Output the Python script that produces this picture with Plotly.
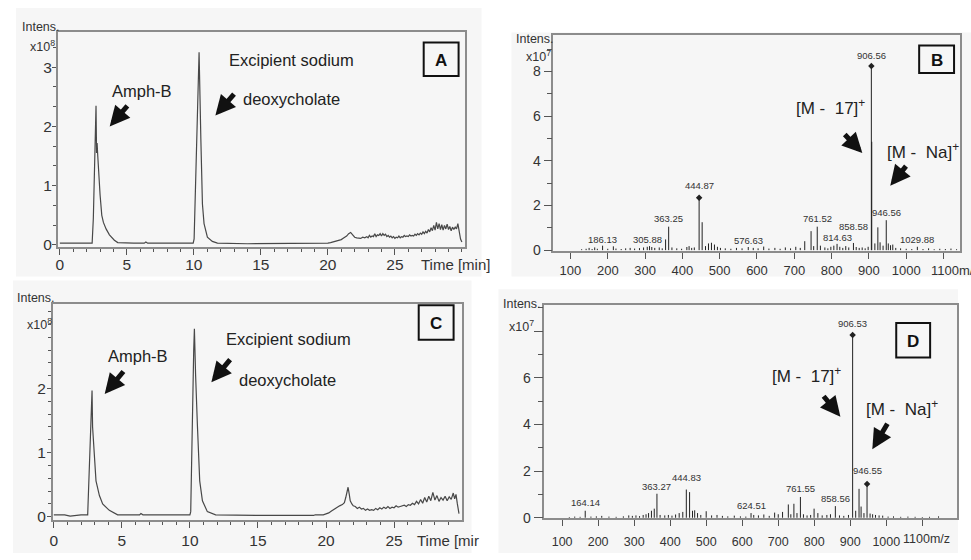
import plotly.graph_objects as go

# ---------------- data ----------------
# Chromatogram A (time [min], intensity x1e8)
time_A = [0, 1, 2, 2.41, 2.5, 2.58, 2.65, 2.70, 2.74, 2.78, 2.83, 2.90, 3.0, 3.13, 3.25, 3.45, 3.7, 4.07, 4.32,
          5.5, 6.3, 6.42, 6.55, 8, 9.95, 10.02, 10.15, 10.27, 10.39, 10.52, 10.64, 10.76, 11.01, 11.38, 11.76,
          14, 18, 19.94, 20.0, 20.2, 20.4, 20.6, 20.8, 21.0, 21.2, 21.4, 21.55, 21.7, 21.85, 22.0, 22.15, 22.3,
          22.45, 22.6, 22.75, 22.9, 23.0, 23.1, 23.2, 23.3, 23.4, 23.5, 23.6, 23.7, 23.8, 23.9, 24.0, 24.1, 24.2,
          24.3, 24.4, 24.5, 24.6, 24.7, 24.8, 24.9, 25.0, 25.1, 25.2, 25.3, 25.4, 25.5, 25.6, 25.7, 25.8, 25.9,
          26.0, 26.1, 26.2, 26.3, 26.4, 26.5, 26.6, 26.7, 26.8, 26.9, 27.0, 27.1, 27.2, 27.3, 27.4, 27.5, 27.6,
          27.7, 27.8, 27.9, 28.0, 28.1, 28.2, 28.3, 28.4, 28.5, 28.6, 28.7, 28.8, 28.9, 29.0, 29.1, 29.2, 29.3,
          29.4, 29.5, 29.6, 29.7, 29.8, 29.9, 30.0]
int_A = [0.03, 0.03, 0.03, 0.03, 0.45, 1.25, 1.9, 2.35, 1.55, 1.72, 1.5, 1.2, 0.85, 0.5, 0.38, 0.27, 0.17, 0.08, 0.04,
         0.03, 0.03, 0.05, 0.03, 0.03, 0.03, 0.1, 1.25, 2.63, 3.25, 1.8, 0.69, 0.36, 0.13, 0.06, 0.03,
         0.02, 0.02, 0.02, 0.03, 0.04, 0.05, 0.06, 0.08, 0.09, 0.12, 0.15, 0.19, 0.21, 0.17, 0.13, 0.12, 0.12,
         0.11, 0.13, 0.12, 0.14, 0.12, 0.16, 0.13, 0.15, 0.14, 0.19, 0.14, 0.17, 0.16, 0.19, 0.15, 0.19, 0.16,
         0.18, 0.14, 0.16, 0.13, 0.15, 0.12, 0.14, 0.11, 0.13, 0.12, 0.15, 0.12, 0.14, 0.13, 0.16, 0.14, 0.15,
         0.14, 0.17, 0.15, 0.16, 0.15, 0.18, 0.16, 0.19, 0.17, 0.2, 0.18, 0.22, 0.19, 0.23, 0.2, 0.26, 0.22,
         0.29, 0.24, 0.33, 0.25, 0.38, 0.27, 0.36, 0.26, 0.34, 0.25, 0.33, 0.27, 0.35, 0.26, 0.31, 0.24, 0.3,
         0.26, 0.3, 0.27, 0.36, 0.18, 0.1, 0.05]

# Chromatogram C (time [min], intensity x1e8)
time_C = [0, 0.8, 1.2, 1.6, 2.0, 2.49, 2.61, 2.71, 2.78, 2.81, 2.85, 2.9, 3.0, 3.10, 3.35, 3.59, 4.08, 4.69,
          6.0, 6.3, 6.4, 6.55, 8, 10.0, 10.06, 10.18, 10.28, 10.33, 10.37, 10.42, 10.55, 10.72, 10.92, 11.28,
          11.89, 15, 19.1, 19.2, 19.8, 20.0, 20.2, 20.4, 20.6, 20.8, 21.0, 21.2, 21.35, 21.45, 21.55, 21.62,
          21.7, 21.78, 21.9, 22.0, 22.15, 22.3, 22.45, 22.6, 22.75, 22.9, 23.05, 23.2, 23.35, 23.5, 23.65, 23.8,
          23.95, 24.1, 24.25, 24.4, 24.55, 24.7, 24.85, 25.0, 25.15, 25.3, 25.45, 25.6, 25.75, 25.9, 26.05,
          26.2, 26.35, 26.5, 26.65, 26.8, 26.95, 27.1, 27.25, 27.4, 27.55, 27.7, 27.85, 28.0, 28.15, 28.3,
          28.45, 28.6, 28.75, 28.9, 29.05, 29.2, 29.35, 29.45, 29.55, 29.65, 29.77]
int_C = [0.03, 0.03, 0.01, 0.02, 0.03, 0.03, 0.66, 1.43, 1.75, 1.97, 1.4, 1.2, 0.85, 0.56, 0.33, 0.2, 0.1, 0.03,
         0.03, 0.03, 0.05, 0.03, 0.03, 0.03, 0.08, 1.69, 2.6, 2.93, 2.56, 2.2, 1.43, 0.56, 0.25, 0.08,
         0.03, 0.02, 0.02, 0.03, 0.03, 0.04, 0.06, 0.09, 0.12, 0.14, 0.17, 0.19, 0.22, 0.3, 0.42, 0.46,
         0.36, 0.25, 0.2, 0.17, 0.16, 0.13, 0.15, 0.12, 0.13, 0.1, 0.12, 0.1, 0.11, 0.1, 0.13, 0.11,
         0.14, 0.12, 0.15, 0.13, 0.16, 0.13, 0.15, 0.14, 0.17, 0.15, 0.16, 0.17, 0.18, 0.16, 0.19,
         0.18, 0.21, 0.19, 0.24, 0.2, 0.27, 0.21, 0.3, 0.23, 0.32, 0.25, 0.38, 0.26, 0.33, 0.24,
         0.3, 0.26, 0.32, 0.25, 0.31, 0.27, 0.37, 0.28, 0.35, 0.2, 0.05]

# Mass spectrum B (m/z, intensity x1e7)
mz_B = [130, 142, 150, 158, 165, 172, 186.13, 200, 215, 222, 236, 248, 260, 272, 285, 296, 305.88, 312, 318,
        326, 338, 346, 355, 363.25, 372, 385, 398, 412, 418, 425, 432, 444.87, 453, 462, 470, 478, 486, 494,
        502, 515, 530, 545, 560, 576.63, 590, 603, 618, 632, 648, 662, 676, 690, 704, 716, 728, 745, 752,
        761.52, 770, 782, 790, 798, 806, 814.63, 822, 830, 838, 846, 858.58, 866, 874, 882, 890, 898, 906.56,
        907.6, 916, 924, 930, 938, 946.56, 952, 958, 964, 972, 985, 1000, 1015, 1029.88, 1045, 1060, 1075,
        1090, 1105, 1120, 1135]
int_B = [0.04, 0.06, 0.1, 0.05, 0.12, 0.06, 0.2, 0.06, 0.17, 0.07, 0.05, 0.08, 0.1, 0.07, 0.09, 0.12, 0.15, 0.18, 0.14,
         0.1, 0.12, 0.08, 0.48, 1.05, 0.12, 0.08, 0.06, 0.14, 0.18, 0.1, 0.12, 2.35, 1.25, 0.18, 0.3, 0.33, 0.25, 0.15,
         0.1, 0.08, 0.06, 0.1, 0.08, 0.14, 0.1, 0.08, 0.16, 0.07, 0.1, 0.06, 0.12, 0.08, 0.15, 0.1, 0.4, 0.85, 0.18,
         1.05, 0.2, 0.12, 0.08, 0.15, 0.2, 0.28, 0.15, 0.1, 0.18, 0.12, 0.32, 0.14, 0.1, 0.12, 0.08, 0.15, 8.24,
         4.85, 0.3, 1.02, 0.35, 0.2, 1.34, 0.3, 0.22, 0.25, 0.1, 0.08, 0.06, 0.05, 0.15, 0.05, 0.08, 0.04,
         0.06, 0.05, 0.07, 0.04]
lab_B = ["186.13", "305.88", "363.25", "444.87", "576.63", "761.52", "814.63", "858.58", "906.56", "946.56", "1029.88"]
lab_B_ypx = [242.7, 242.7, 221.7, 187.7, 243.3, 221.7, 240, 229.3, 56.7, 215, 242.3]
mark_B = [444.87, 906.56]

# Mass spectrum D (m/z, intensity x1e7)
mz_D = [120, 135, 150, 164.14, 180, 195, 210, 230, 250, 270, 285, 295, 305, 315, 325, 333, 340, 348, 355.8, 363.27,
        372, 385, 395, 405, 415, 425, 435, 444.83, 453.9, 462, 468, 476, 485, 500, 515, 530, 545, 560, 578, 595,
        610, 624.51, 632, 645, 660, 675, 690, 700, 712, 728, 735, 743.5, 752, 761.55, 770, 780, 790, 799.5, 810,
        822, 835, 845, 858.56, 870, 882, 895, 906.53, 915, 924.3, 930, 938, 946.55, 955, 962, 970, 980, 990,
        1005, 1020, 1040, 1060, 1080, 1100, 1120, 1145]
int_D = [0.03, 0.05, 0.04, 0.3, 0.05, 0.06, 0.08, 0.05, 0.04, 0.06, 0.1, 0.08, 0.1, 0.07, 0.12, 0.15, 0.2, 0.3, 0.39, 1.03,
         0.12, 0.1, 0.12, 0.09, 0.14, 0.2, 0.25, 1.21, 1.1, 0.3, 0.32, 0.2, 0.12, 0.28, 0.1, 0.12, 0.08, 0.06, 0.09, 0.06,
         0.05, 0.2, 0.12, 0.1, 0.14, 0.08, 0.22, 0.15, 0.25, 0.57, 0.15, 0.6, 0.2, 0.89, 0.15, 0.1, 0.12, 0.39, 0.2,
         0.1, 0.12, 0.15, 0.5, 0.1, 0.08, 0.12, 7.84, 0.3, 1.24, 0.48, 0.2, 1.45, 0.18, 0.15, 0.12, 0.1, 0.09,
         0.05, 0.06, 0.04, 0.05, 0.04, 0.03, 0.04, 0.06]
lab_D = ["164.14", "363.27", "444.83", "624.51", "761.55", "858.56", "906.53", "946.55"]
lab_D_ypx = [509.3, 492.3, 484, 511.7, 495, 505, 327.7, 476.7]
mark_D = [906.53, 946.55]

chrom_ticks = [0, 5, 10, 15, 20, 25]
ms_ticks = [100, 200, 300, 400, 500, 600, 700, 800, 900, 1000, 1100]
ms_ticktext = ["100", "200", "300", "400", "500", "600", "700", "800", "900", "1000", ""]

# ---------------- figure ----------------
W, H = 971, 560
def X(p): return p / W
def Y(p): return 1 - p / H

FA = "Liberation Sans, Arial, sans-serif"
LINE = '#8c8c8c'
TXT = '#333'

fig = go.Figure()

def stems(mz, iv):
    sx, sy = [], []
    for m, v in zip(mz, iv):
        sx += [m, m, None]
        sy += [0, v, None]
    return sx, sy

fig.add_trace(go.Scatter(x=time_A, y=int_A, mode='lines', line=dict(color='#484848', width=1.2),
                         xaxis='x', yaxis='y', showlegend=False, hoverinfo='skip'))
sx, sy = stems(mz_B, int_B)
fig.add_trace(go.Scatter(x=sx, y=sy, mode='lines', line=dict(color='#222', width=1),
                         xaxis='x2', yaxis='y2', showlegend=False, hoverinfo='skip'))
fig.add_trace(go.Scatter(x=mark_B, y=[int_B[mz_B.index(m)] for m in mark_B], mode='markers',
                         marker=dict(symbol='diamond', size=5, color='#222'),
                         xaxis='x2', yaxis='y2', showlegend=False, hoverinfo='skip'))
fig.add_trace(go.Scatter(x=time_C, y=int_C, mode='lines', line=dict(color='#484848', width=1.2),
                         xaxis='x3', yaxis='y3', showlegend=False, hoverinfo='skip'))
sx, sy = stems(mz_D, int_D)
fig.add_trace(go.Scatter(x=sx, y=sy, mode='lines', line=dict(color='#222', width=1),
                         xaxis='x4', yaxis='y4', showlegend=False, hoverinfo='skip'))
fig.add_trace(go.Scatter(x=mark_D, y=[int_D[mz_D.index(m)] for m in mark_D], mode='markers',
                         marker=dict(symbol='diamond', size=5, color='#222'),
                         xaxis='x4', yaxis='y4', showlegend=False, hoverinfo='skip'))

def ax(**kw):
    d = dict(showline=True, linecolor=LINE, linewidth=1.5, mirror=True, showgrid=False, zeroline=False,
             ticks='outside', tickcolor='#555', ticklabeloverflow='allow', fixedrange=True, tickangle=0)
    d.update(kw)
    return d

def minor(dt, ln=3):
    return dict(ticks='outside', ticklen=ln, tickmode='linear', tick0=0, dtick=dt, tickcolor='#555')

fig.update_layout(
    width=W, height=H, margin=dict(l=0, r=0, t=0, b=0),
    paper_bgcolor='white', plot_bgcolor='rgba(0,0,0,0)',
    xaxis=ax(domain=[X(55), X(463)], range=[-0.15, 30.2], anchor='y', tickmode='array', tickvals=chrom_ticks,
             ticklen=6, ticklabelstandoff=-3, tickfont=dict(family=FA, size=15.5, color=TXT), minor=minor(1)),
    yaxis=ax(domain=[Y(250), Y(32)], range=[-0.033, 3.6], anchor='x', tickmode='array', tickvals=[0, 1, 2, 3],
             ticklen=4, ticklabelstandoff=-3, tickfont=dict(family=FA, size=15.5, color=TXT), minor=minor(1/3)),
    xaxis2=ax(domain=[X(552), X(960)], range=[54.0, 1144.3], anchor='y2', tickmode='array', tickvals=ms_ticks,
              ticktext=ms_ticktext, ticklen=6, ticklabelstandoff=0,
              tickfont=dict(family=FA, size=13, color=TXT)),
    yaxis2=ax(domain=[Y(254.5), Y(35)], range=[-0.053, 9.65], anchor='x2', tickmode='array', tickvals=[0, 2, 4, 6, 8],
              ticklen=8, tickfont=dict(family=FA, size=14, color=TXT), minor=minor(1, 5)),
    xaxis3=ax(domain=[X(50), X(460)], range=[-0.07, 29.96], anchor='y3', tickmode='array', tickvals=chrom_ticks,
              ticklen=6, ticklabelstandoff=-1, tickfont=dict(family=FA, size=15.5, color=TXT), minor=minor(1)),
    yaxis3=ax(domain=[Y(527), Y(308)], range=[-0.057, 3.315], anchor='x3', tickmode='array', tickvals=[0, 1, 2],
              ticklen=4, ticklabelstandoff=-2, tickfont=dict(family=FA, size=15.5, color=TXT), minor=minor(0.2)),
    xaxis4=ax(domain=[X(543), X(957)], range=[50.6, 1196.4], anchor='y4', tickmode='array', tickvals=ms_ticks,
              ticktext=ms_ticktext, ticklen=6, ticklabelstandoff=5,
              tickfont=dict(family=FA, size=12.5, color=TXT)),
    yaxis4=ax(domain=[Y(524.8), Y(309)], range=[-0.021, 9.12], anchor='x4', tickmode='array',
              tickvals=[0, 2, 4, 6, 8], ticktext=['0', '2', '4', '6', ''],
              ticklen=9, tickfont=dict(family=FA, size=14, color=TXT), minor=minor(1, 5)),
)

shapes = []
for (x0, y0, x1, y1) in [(13, 8, 480, 280), (510, 33, 971, 280), (10, 284, 470, 560), (497, 293, 958, 560)]:
    shapes.append(dict(type='rect', xref='paper', yref='paper', x0=X(x0), x1=X(x1), y0=Y(y1), y1=Y(y0),
                       fillcolor='#f6f6f6', line=dict(width=0), layer='below'))
boxes = [("A", 422, 43, 457, 77), ("B", 919, 46, 954, 74), ("C", 417, 309, 452, 344), ("D", 896, 327, 930, 362)]
for (t, x0, y0, x1, y1) in boxes:
    shapes.append(dict(type='rect', xref='paper', yref='paper', x0=X(x0), x1=X(x1), y0=Y(y1), y1=Y(y0),
                       fillcolor='rgba(0,0,0,0)', line=dict(color='#111', width=2)))
fig.update_layout(shapes=shapes)

ann = []
def txt(t, xpx, ypx, size, family=FA, xanchor='center', color='#222', bold=False):
    ann.append(dict(text=("<b>%s</b>" % t) if bold else t, x=X(xpx), y=Y(ypx), xref='paper', yref='paper',
                    showarrow=False, xanchor=xanchor, yanchor='middle', font=dict(family=family, size=size, color=color)))

def arrow(tipx, tipy, tailx, taily):
    ann.append(dict(text='', x=X(tipx), y=Y(tipy), xref='paper', yref='paper', showarrow=True,
                    ax=tailx - tipx, ay=taily - tipy, axref='pixel', ayref='pixel',
                    arrowhead=2, arrowsize=0.8, arrowwidth=5, arrowcolor='#111', standoff=0))

for (t, x0, y0, x1, y1) in boxes:
    txt(t, (x0 + x1) / 2, (y0 + y1) / 2 + 1, 17, bold=True, color='#111')

# panel A
txt("Intens.", 17, 27, 12.5, xanchor='left', color=TXT)
txt("x10<sup>8</sup>", 54, 47, 12.5, xanchor='right', color=TXT)
txt("Time [min]", 417, 268, 15, xanchor='left', color=TXT)
txt("Amph-B", 139, 92, 16.5)
txt("Excipient sodium", 289.5, 61, 16.5)
txt("deoxycholate", 289, 100, 16.5)
arrow(107, 128, 126, 106)
arrow(213, 117, 233, 94)
# panel C
txt("Intens.", 12, 302, 12.5, xanchor='left', color=TXT)
txt("x10<sup>8</sup>", 51, 328, 12.5, xanchor='right', color=TXT)
txt("Time [mir", 413, 547, 15, xanchor='left', color=TXT)
txt("Amph-B", 135.5, 360, 16.5)
txt("Excipient sodium", 286, 343, 16.5)
txt("deoxycholate", 285.5, 385, 16.5)
arrow(102, 399, 122, 375)
arrow(209, 387, 229, 363)
# panel B
txt("Intens.", 513, 40, 12.5, xanchor='left', color=TXT)
txt("x10<sup>7</sup>", 552, 57, 12.5, xanchor='right', color=TXT)
txt("1100m/z", 929, 274, 13, xanchor='left', color=TXT)
txt("[M -&nbsp; 17]<sup>+</sup>", 830, 108, 17)
txt("[M -&nbsp; Na]<sup>+</sup>", 923, 153, 17)
arrow(862, 155, 843, 135)
arrow(890, 188, 907, 167)
# panel D
txt("Intens.", 500, 308, 12.5, xanchor='left', color=TXT)
txt("x10<sup>7</sup>", 535, 330, 12.5, xanchor='right', color=TXT)
txt("1100m/z", 901, 546, 12.5, xanchor='left', color=TXT)
txt("[M -&nbsp; 17]<sup>+</sup>", 806, 380, 17)
txt("[M -&nbsp; Na]<sup>+</sup>", 902, 413, 17)
arrow(840, 422, 822, 400)
arrow(872, 455, 888, 428)

for t, ypx in zip(lab_B, lab_B_ypx):
    ann.append(dict(text=t, x=float(t), y=Y(ypx), xref='x2', yref='paper', showarrow=False, xanchor='center',
                    yanchor='middle', font=dict(family=FA, size=9.5, color=TXT)))
for t, ypx in zip(lab_D, lab_D_ypx):
    ann.append(dict(text=t, x=float(t), y=Y(ypx), xref='x4', yref='paper', showarrow=False, xanchor='center',
                    yanchor='middle', font=dict(family=FA, size=9.5, color=TXT)))

fig.update_layout(annotations=ann)
fig.write_html("out.html")
